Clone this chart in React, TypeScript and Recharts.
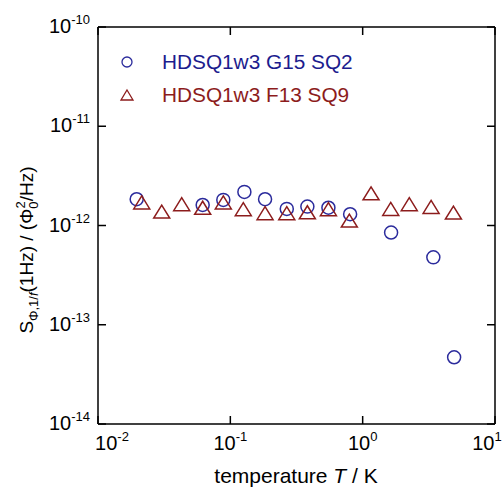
import { ScatterChart, Scatter, XAxis, YAxis, ReferenceLine } from 'recharts'

// sample HDSQ1w3 G15 SQ2 (circles)
const g15Temp = [0.0196, 0.0618, 0.0885, 0.1277, 0.183, 0.267, 0.382, 0.551, 0.804, 1.64, 3.42, 4.91]
const g15Noise = [1.84e-12, 1.61e-12, 1.81e-12, 2.18e-12, 1.84e-12, 1.47e-12, 1.55e-12, 1.51e-12, 1.3e-12, 8.5e-13, 4.78e-13, 4.7e-14]

// sample HDSQ1w3 F13 SQ9 (triangles)
const f13Temp = [0.0214, 0.0303, 0.0429, 0.0618, 0.0885, 0.1253, 0.183, 0.267, 0.382, 0.551, 0.793, 1.157, 1.63, 2.25, 3.29, 4.85]
const f13Noise = [1.71e-12, 1.38e-12, 1.64e-12, 1.51e-12, 1.71e-12, 1.46e-12, 1.33e-12, 1.33e-12, 1.36e-12, 1.46e-12, 1.12e-12, 2.11e-12, 1.47e-12, 1.64e-12, 1.54e-12, 1.35e-12]

const xTicks = [0.01, 0.1, 1, 10]
const yTicks = [1e-14, 1e-13, 1e-12, 1e-11, 1e-10]

const seriesNames = ['HDSQ1w3 G15 SQ2', 'HDSQ1w3 F13 SQ9']

const BLUE = '#2b2b9c'
const BLUE_TEXT = '#1c1c8e'
const RED = '#8c1c1c'
const FONT = '"Liberation Sans", Arial, sans-serif'

const W = 502
const H = 489
const TOP = 27
const LEFT = 98
const RIGHT = 495
const BOTTOM = 424

const g15 = g15Temp.map((t, i) => ({ t, s: g15Noise[i] }))
const f13 = f13Temp.map((t, i) => ({ t, s: f13Noise[i] }))

const exponent = (v: number) => String(Math.round(Math.log10(v)))

function XTick(props: any) {
  const { payload, index } = props
  const x = payload.coordinate
  // first and last labels are nudged inward like in the original figure
  const shift = index === 0 ? 14 : index === xTicks.length - 1 ? -8 : 0
  return (
    <g>
      <line x1={x} x2={x} y1={BOTTOM} y2={BOTTOM - 8} stroke="#000" strokeWidth={1.5} />
      <line x1={x} x2={x} y1={TOP} y2={TOP + 8} stroke="#000" strokeWidth={1.5} />
      <text x={x + shift} y={450} textAnchor="middle" fontFamily={FONT} fontSize={20} fill="#000">
        10<tspan dy={-9} fontSize={13}>{exponent(payload.value)}</tspan>
      </text>
    </g>
  )
}

function YTick(props: any) {
  const { payload } = props
  const y = payload.coordinate
  return (
    <g>
      <line x1={LEFT} x2={LEFT + 8} y1={y} y2={y} stroke="#000" strokeWidth={1.5} />
      <line x1={RIGHT} x2={RIGHT - 8} y1={y} y2={y} stroke="#000" strokeWidth={1.5} />
      <text x={90} y={y + 6} textAnchor="end" fontFamily={FONT} fontSize={20} fill="#000">
        10<tspan dy={-9} fontSize={13}>{exponent(payload.value)}</tspan>
      </text>
    </g>
  )
}

function CircleMark(props: any) {
  const { cx, cy } = props
  return <circle cx={cx} cy={cy} r={6.5} fill="none" stroke={BLUE} strokeWidth={1.5} />
}

function TriangleMark(props: any) {
  const { cx, cy } = props
  return (
    <path
      d={`M${cx},${cy - 6.5} L${cx + 8},${cy + 6.5} L${cx - 8},${cy + 6.5} Z`}
      fill="none"
      stroke={RED}
      strokeWidth={1.5}
    />
  )
}

function XLabel() {
  return (
    <text x={296} y={483} textAnchor="middle" fontFamily={FONT} fontSize={21} fill="#000">
      temperature <tspan fontStyle="italic">T</tspan> / K
    </text>
  )
}

function YLabel() {
  return (
    <g transform="translate(33,250) rotate(-90)">
      <text x={0} y={0} textAnchor="middle" fontFamily={FONT} fontSize={19} fill="#000">
        S
        <tspan dy={5} fontSize={13}>Φ,1/</tspan>
        <tspan fontSize={13} fontStyle="italic">f</tspan>
        <tspan dy={-5}>(1Hz) / (Φ</tspan>
        <tspan dy={5} fontSize={13}>0</tspan>
        <tspan dy={-13} dx={-7} fontSize={13}>2</tspan>
        <tspan dy={8}>/Hz)</tspan>
      </text>
    </g>
  )
}

function LegendBox() {
  const rows = [
    { name: seriesNames[0], color: BLUE_TEXT, mark: 'circle' },
    { name: seriesNames[1], color: RED, mark: 'triangle' },
  ]
  return (
    <svg width={280} height={70} style={{ position: 'absolute', left: 115, top: 48 }}>
      {rows.map((r, i) => {
        const cy = 14 + i * 33
        return (
          <g key={r.name}>
            {r.mark === 'circle' ? (
              <circle cx={12} cy={cy} r={5} fill="none" stroke={BLUE} strokeWidth={1.3} />
            ) : (
              <path d={`M12,${cy - 5} L18,${cy + 5} L6,${cy + 5} Z`} fill="none" stroke={RED} strokeWidth={1.3} />
            )}
            <g transform={`translate(47,${cy + 7}) scale(1.04,1)`}>
              <text x={0} y={0} fontFamily={FONT} fontSize={20} fill={r.color}>
                {r.name}
              </text>
            </g>
          </g>
        )
      })}
    </svg>
  )
}

export default function App() {
  return (
    <div style={{ position: 'fixed', left: 0, top: 0, width: W, height: H, background: '#fff' }}>
      <ScatterChart width={W} height={H} margin={{ top: TOP, right: W - RIGHT, bottom: 0, left: 0 }}>
        <XAxis
          type="number"
          dataKey="t"
          scale="log"
          domain={[0.01, 10]}
          ticks={xTicks}
          allowDataOverflow
          height={H - BOTTOM}
          axisLine={{ stroke: '#000', strokeWidth: 1.5 }}
          tickLine={false}
          tick={<XTick />}
          interval={0}
          label={<XLabel />}
        />
        <YAxis
          type="number"
          dataKey="s"
          scale="log"
          domain={[1e-14, 1e-10]}
          ticks={yTicks}
          allowDataOverflow
          width={LEFT}
          axisLine={{ stroke: '#000', strokeWidth: 1.5 }}
          tickLine={false}
          tick={<YTick />}
          interval={0}
          label={<YLabel />}
        />
        <ReferenceLine y={1e-10} stroke="#000" strokeWidth={1.5} />
        <ReferenceLine x={10} stroke="#000" strokeWidth={1.5} />
        <Scatter name={seriesNames[0]} data={g15} shape={<CircleMark />} isAnimationActive={false} />
        <Scatter name={seriesNames[1]} data={f13} shape={<TriangleMark />} isAnimationActive={false} />
      </ScatterChart>
      <LegendBox />
    </div>
  )
}
